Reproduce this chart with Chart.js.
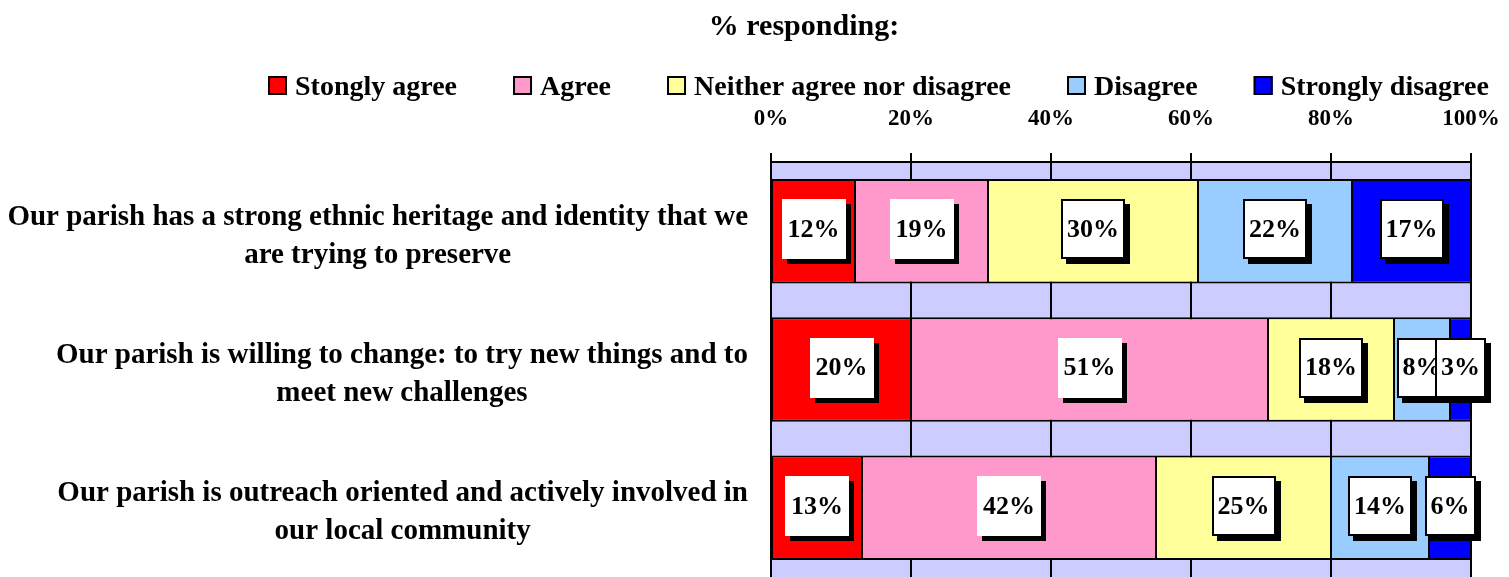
<!DOCTYPE html>
<html><head><meta charset="utf-8">
<script src="https://cdn.jsdelivr.net/npm/chart.js@4.4.1/dist/chart.umd.min.js"></script>
<style>html,body{margin:0;padding:0;background:#fff}#wrap{width:1509px;height:577px;position:relative;overflow:hidden}</style>
</head><body><div id="wrap"><canvas id="c" width="1509" height="577"></canvas></div>
<script>
const categories = [
  ["Our parish has a strong ethnic heritage and identity that we", "are trying to preserve"],
  ["Our parish is willing to change: to try new things and to", "meet new challenges"],
  ["Our parish is outreach oriented and actively involved in", "our local community"]
];
const seriesNames = ["Stongly agree", "Agree", "Neither agree nor disagree", "Disagree", "Strongly disagree"];
const stronglyAgree = [12, 20, 13];
const agree = [19, 51, 42];
const neither = [30, 18, 25];
const disagree = [22, 8, 14];
const stronglyDisagree = [17, 3, 6];
const xTicks = [0, 20, 40, 60, 80, 100];
const titleText = "% responding:";

const FONT = "'Liberation Serif', 'Times New Roman', serif";
const colors = ["#ff0000", "#ff99cc", "#ffff99", "#99ccff", "#0000ff"];
const labelBorders = [false, false, true, true, true];
const seriesValues = [stronglyAgree, agree, neither, disagree, stronglyDisagree];

Chart.defaults.font.family = FONT;
Chart.defaults.color = '#000';

const datasets = seriesNames.map((name, i) => ({
  label: name,
  data: seriesValues[i],
  backgroundColor: colors[i],
  borderColor: '#000',
  borderWidth: {top: 2, bottom: 2, left: 1, right: 1},
  borderSkipped: false,
  barPercentage: 0.755,
  categoryPercentage: 1.0,
  labelBorder: labelBorders[i]
}));

const bgPlugin = {
  id: 'bg',
  beforeDraw(chart) {
    const {ctx, chartArea: a} = chart;
    ctx.save();
    ctx.fillStyle = '#ccccff';
    ctx.fillRect(a.left, a.top, a.right - a.left, a.bottom - a.top);
    ctx.restore();
  }
};

const valueLabels = {
  id: 'valueLabels',
  afterDatasetsDraw(chart) {
    const ctx = chart.ctx;
    ctx.save();
    ctx.font = 'bold 26px ' + FONT;
    ctx.textAlign = 'center';
    ctx.textBaseline = 'middle';
    chart.data.datasets.forEach((ds, di) => {
      const meta = chart.getDatasetMeta(di);
      meta.data.forEach((el, i) => {
        const t = ds.data[i] + '%';
        const cx = (el.x + el.base) / 2;
        const cy = el.y - 2;
        const w = Math.round(ctx.measureText(t).width + 12);
        const h = 60;
        const x0 = Math.round(cx - w / 2), y0 = Math.round(cy - h / 2);
        ctx.fillStyle = '#000';
        ctx.fillRect(x0 + 5, y0 + 5, w, h);
        ctx.fillStyle = '#fff';
        ctx.fillRect(x0, y0, w, h);
        if (ds.labelBorder) {
          ctx.lineWidth = 2;
          ctx.strokeStyle = '#000';
          ctx.strokeRect(x0 + 1, y0 + 1, w - 2, h - 2);
        }
        ctx.fillStyle = '#000';
        ctx.fillText(t, cx, cy + 1);
      });
    });
    ctx.restore();
  }
};

const textPlugin = {
  id: 'texts',
  afterDraw(chart) {
    const ctx = chart.ctx;
    const ys = chart.scales.y;
    ctx.save();
    ctx.fillStyle = '#000';
    ctx.textBaseline = 'middle';
    ctx.textAlign = 'center';
    // category labels
    ctx.font = 'bold 29px ' + FONT;
    chart.data.labels.forEach((lines, i) => {
      const yc = ys.getPixelForTick(i) + 5;
      const bw = Math.max(...lines.map(l => ctx.measureText(l).width));
      const right = chart.chartArea.left - 23;
      const cx = right - bw / 2;
      lines.forEach((l, k) => ctx.fillText(l, cx, yc + (k - (lines.length - 1) / 2) * 38));
    });
    // title
    ctx.font = 'bold 30px ' + FONT;
    ctx.fillText(titleText, 804, 27);
    // legend
    ctx.font = 'bold 28px ' + FONT;
    ctx.textAlign = 'left';
    const items = chart.data.datasets.map(ds => ({text: ds.label, color: ds.backgroundColor, w: ctx.measureText(ds.label).width}));
    const box = 19, gap = 8, spacing = 56;
    let total = items.reduce((s, it) => s + box + gap + it.w, 0) + spacing * (items.length - 1);
    let x = Math.round(878 - total / 2);
    const yMid = 88;
    items.forEach(it => {
      ctx.fillStyle = it.color;
      ctx.fillRect(x, yMid - 12, box, box);
      ctx.lineWidth = 2;
      ctx.strokeStyle = '#000';
      ctx.strokeRect(x + 1, yMid - 11, box - 2, box - 2);
      ctx.fillStyle = '#000';
      ctx.fillText(it.text, x + box + gap, yMid);
      x += box + gap + it.w + spacing;
    });
    ctx.restore();
  }
};

new Chart(document.getElementById('c'), {
  type: 'bar',
  data: { labels: categories, datasets },
  options: {
    indexAxis: 'y',
    responsive: false,
    animation: false,
    devicePixelRatio: 1,
    layout: { padding: { left: 0, right: 38, top: 105, bottom: -3 } },
    plugins: { legend: { display: false }, title: { display: false }, tooltip: { enabled: false } },
    scales: {
      x: {
        type: 'linear', position: 'top', stacked: true, min: 0, max: 100,
        afterBuildTicks(s) { s.ticks = xTicks.map(v => ({ value: v })); },
        afterFit(s) { s.height = 57; s.paddingLeft = 0; s.paddingRight = 0; },
        ticks: { callback: v => v + '%', font: { size: 23, weight: 'bold', family: FONT }, color: '#000', padding: 20, maxRotation: 0, autoSkip: false },
        grid: { color: '#000', lineWidth: 2, tickLength: 9, drawTicks: true, drawOnChartArea: true, tickColor: '#000', tickWidth: 2 },
        border: { display: true, color: '#000', width: 2 }
      },
      y: {
        type: 'category', stacked: true, position: 'left',
        ticks: { display: false },
        grid: { display: false },
        border: { display: true, color: '#000', width: 2 },
        afterFit(s) { s.width = 771; }
      }
    }
  },
  plugins: [bgPlugin, valueLabels, textPlugin]
});
</script>
</body></html>
